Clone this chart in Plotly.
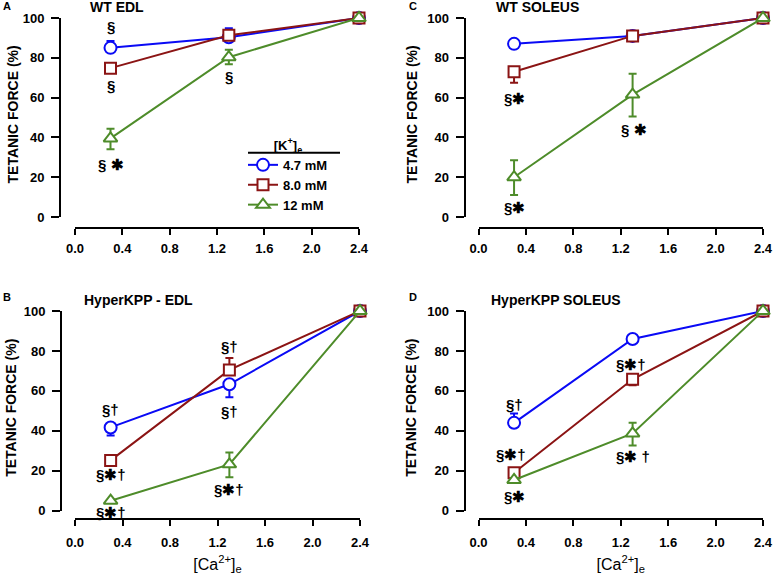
import plotly.graph_objects as go

# ---------------- data ----------------
ca = [0.3, 1.3, 2.4]
series_names = ["4.7 mM", "8.0 mM", "12 mM"]

# Panel A: WT EDL
A_k47 = [85.0, 90.3, 100.0]
A_k47_up = [3.5, 4.5, 0]
A_k47_dn = [0, 0, 0]
A_k80 = [74.8, 91.3, 100.0]
A_k80_up = [0, 1.0, 0]
A_k80_dn = [0, 0, 0]
A_k12 = [39.5, 80.3, 100.0]
A_k12_up = [4.8, 3.8, 0]
A_k12_dn = [5.5, 3.5, 0]

# Panel C: WT SOLEUS
C_k47 = [87.0, 91.0, 100.0]
C_k47_up = [1.5, 1.5, 0]
C_k47_dn = [1.5, 0, 0]
C_k80 = [73.0, 91.0, 100.0]
C_k80_up = [0, 0, 0]
C_k80_dn = [5.5, 0, 0]
C_k12 = [20.0, 61.5, 100.0]
C_k12_up = [8.5, 10.5, 0]
C_k12_dn = [9.0, 11.0, 0]

# Panel B: HyperKPP - EDL
B_k47 = [41.7, 63.3, 100.0]
B_k47_up = [0, 0, 0]
B_k47_dn = [4.0, 6.5, 0]
B_k80 = [25.2, 70.5, 100.0]
B_k80_up = [0, 6.0, 0]
B_k80_dn = [0, 0, 0]
B_k12 = [5.0, 23.2, 100.0]
B_k12_up = [0, 6.0, 0]
B_k12_dn = [0, 6.5, 0]

# Panel D: HyperKPP SOLEUS
D_k47 = [44.0, 86.0, 100.0]
D_k47_up = [4.7, 0, 0]
D_k47_dn = [0, 0, 0]
D_k80 = [19.0, 65.8, 100.0]
D_k80_up = [0, 0, 0]
D_k80_dn = [0, 3.0, 0]
D_k12 = [15.4, 38.7, 100.0]
D_k12_up = [0, 5.3, 0]
D_k12_dn = [0, 6.0, 0]

STAR = "✱"
# significance marks: (Ca value, force value, text)
A_marks = [(0.3, 95.5, "§"), (0.3, 66.0, "§"), (0.3, 26.5, "§ " + STAR), (1.3, 70.5, "§")]
C_marks = [(0.3, 59.5, "§" + STAR), (1.31, 44.0, "§ " + STAR), (0.3, 4.8, "§" + STAR)]
B_marks = [(0.3, 50.5, "§†"), (0.3, 18.0, "§" + STAR + "†"), (0.3, -1.0, "§" + STAR + "†"),
           (1.3, 82.0, "§†"), (1.3, 49.5, "§†"), (1.3, 10.5, "§" + STAR + "†")]
D_marks = [(0.3, 53.0, "§†"), (0.27, 28.0, "§" + STAR + "†"), (0.3, 7.3, "§" + STAR),
           (1.29, 73.0, "§" + STAR + "†"), (1.3, 27.0, "§" + STAR + " †")]

x_ticks = [0.0, 0.4, 0.8, 1.2, 1.6, 2.0, 2.4]
x_ticktext = ["0.0", "0.4", "0.8", "1.2", "1.6", "2.0", "2.4"]
y_ticks = [0, 20, 40, 60, 80, 100]
y_title = "TETANIC FORCE (%)"
x_title = "[Ca<sup>2+</sup>]<sub>e</sub>"

# ---------------- styling ----------------
W, H = 774, 577
FONT = "Liberation Sans, Arial, sans-serif"
colors = ["#0a0af5", "#8b1414", "#4e8c2a"]
symbols = ["circle", "square", "triangle-up"]
msizes = [12, 11, 12]


def px(x):
    return x / W


def py(y):
    return 1 - y / H


panels = [
    dict(key="A", title="WT EDL", xa="x", ya="y", xdom=(75, 359), ydom=(18, 217), xline=228, yline=60,
         data=[(A_k47, A_k47_up, A_k47_dn), (A_k80, A_k80_up, A_k80_dn), (A_k12, A_k12_up, A_k12_dn)],
         marks=A_marks, lab_xy=(1, 6), title_x=88, title_y=7, xtitle=False, ytitle_x=12, xstand=2),
    dict(key="C", title="WT SOLEUS", xa="x2", ya="y2", xdom=(478.5, 763), ydom=(18, 217), xline=228, yline=464.5,
         data=[(C_k47, C_k47_up, C_k47_dn), (C_k80, C_k80_up, C_k80_dn), (C_k12, C_k12_up, C_k12_dn)],
         marks=C_marks, lab_xy=(407, 6), title_x=494, title_y=7, xtitle=False, ytitle_x=411, xstand=2),
    dict(key="B", title="HyperKPP - EDL", xa="x3", ya="y3", xdom=(75, 360), ydom=(311, 510.7), xline=519.3, yline=61,
         data=[(B_k47, B_k47_up, B_k47_dn), (B_k80, B_k80_up, B_k80_dn), (B_k12, B_k12_up, B_k12_dn)],
         marks=B_marks, lab_xy=(1, 297), title_x=82, title_y=300, xtitle=True, ytitle_x=11, xstand=5),
    dict(key="D", title="HyperKPP SOLEUS", xa="x4", ya="y4", xdom=(478.5, 763), ydom=(311, 510.7), xline=519.3,
         yline=464.5,
         data=[(D_k47, D_k47_up, D_k47_dn), (D_k80, D_k80_up, D_k80_dn), (D_k12, D_k12_up, D_k12_dn)],
         marks=D_marks, lab_xy=(407, 297), title_x=489, title_y=300, xtitle=True, ytitle_x=411, xstand=5),
]

fig = go.Figure()
annotations = []
layout_axes = {}

for pi, p in enumerate(panels):
    for si, (yv, up, dn) in enumerate(p["data"]):
        fig.add_trace(go.Scatter(
            x=ca, y=yv, xaxis=p["xa"], yaxis=p["ya"],
            mode="lines+markers", name=series_names[si],
            legendgroup=series_names[si], showlegend=(pi == 0),
            line=dict(color=colors[si], width=2),
            marker=dict(symbol=symbols[si], size=msizes[si], color="white",
                        line=dict(color=colors[si], width=2)),
            error_y=dict(type="data", symmetric=False, array=up, arrayminus=dn,
                         color=colors[si], thickness=2, width=4),
            cliponaxis=False,
        ))
    xname = "xaxis" if p["xa"] == "x" else "xaxis" + p["xa"][1:]
    yname = "yaxis" if p["ya"] == "y" else "yaxis" + p["ya"][1:]
    xax = dict(
        domain=[px(p["xdom"][0]), px(p["xdom"][1])], range=[0, 2.4],
        anchor="free", position=py(p["xline"]),
        tickvals=x_ticks, ticktext=x_ticktext,
        showline=True, linecolor="black", linewidth=2,
        ticks="outside", ticklen=6, tickwidth=2, tickcolor="black",
        ticklabelstandoff=p["xstand"], ticklabeloverflow="allow",
        showgrid=False, zeroline=False, automargin=False,
        tickfont=dict(family=FONT, size=13, color="black", weight="bold"),
    )
    if p["xtitle"]:
        xax["title"] = dict(text=x_title, font=dict(family=FONT, size=16, color="black"), standoff=9)
    layout_axes[xname] = xax
    layout_axes[yname] = dict(
        domain=[py(p["ydom"][1]), py(p["ydom"][0])], range=[0, 100],
        anchor="free", position=px(p["yline"]),
        tickvals=y_ticks,
        showline=True, linecolor="black", linewidth=2,
        ticks="outside", ticklen=8, tickwidth=2, tickcolor="black",
        ticklabelstandoff=4,
        showgrid=False, zeroline=False, automargin=False,
        tickfont=dict(family=FONT, size=13, color="black", weight="bold"),
    )
    # y-axis title
    annotations.append(dict(x=px(p["ytitle_x"]), y=py((p["ydom"][0] + p["ydom"][1]) / 2 - 3),
                            xref="paper", yref="paper", text=y_title, textangle=-90, showarrow=False,
                            xanchor="center", yanchor="middle",
                            font=dict(family=FONT, size=14, color="black", weight="bold")))
    px_per_unit = (p["ydom"][1] - p["ydom"][0]) / 100.0
    for (mx, my, mt) in p["marks"]:
        # annotations below the axis range are anchored at 0 and shifted down in pixels
        shift = min(my, 0.0) * px_per_unit
        annotations.append(dict(x=mx, y=max(my, 0.0), yshift=shift, xref=p["xa"], yref=p["ya"], text=mt,
                                showarrow=False, xanchor="center", yanchor="middle",
                                font=dict(family=FONT, size=15, color="black", weight="bold")))
    annotations.append(dict(x=px(p["lab_xy"][0]), y=py(p["lab_xy"][1]), xref="paper", yref="paper",
                            text=p["key"], showarrow=False, xanchor="left", yanchor="middle",
                            font=dict(family=FONT, size=11, color="black", weight="bold")))
    annotations.append(dict(x=px(p["title_x"]), y=py(p["title_y"]), xref="paper", yref="paper",
                            text=p["title"], showarrow=False, xanchor="left", yanchor="middle",
                            font=dict(family=FONT, size=14, color="black", weight="bold")))

fig.update_layout(
    width=W, height=H,
    margin=dict(l=0, r=0, t=0, b=0, autoexpand=False),
    paper_bgcolor="white", plot_bgcolor="white",
    font=dict(family=FONT, color="black"),
    annotations=annotations,
    legend=dict(x=px(243), xanchor="left", y=py(133), yanchor="top",
                title=dict(text="[K<sup>+</sup>]<sub>e</sub>", side="top center",
                           font=dict(family=FONT, size=13, color="black", weight="bold")),
                font=dict(family=FONT, size=13, color="black", weight="bold"),
                bgcolor="rgba(0,0,0,0)", tracegroupgap=0, itemwidth=30),
    shapes=[dict(type="line", xref="paper", yref="paper", x0=px(248), x1=px(340), y0=py(152.7), y1=py(152.7),
                 line=dict(color="black", width=2))],
    showlegend=True,
    **layout_axes,
)

fig.write_html("out.html",
               config={"displayModeBar": False},
               post_script="document.documentElement.style.margin='0';document.body.style.margin='0';"
                           "document.body.style.overflow='hidden';")
